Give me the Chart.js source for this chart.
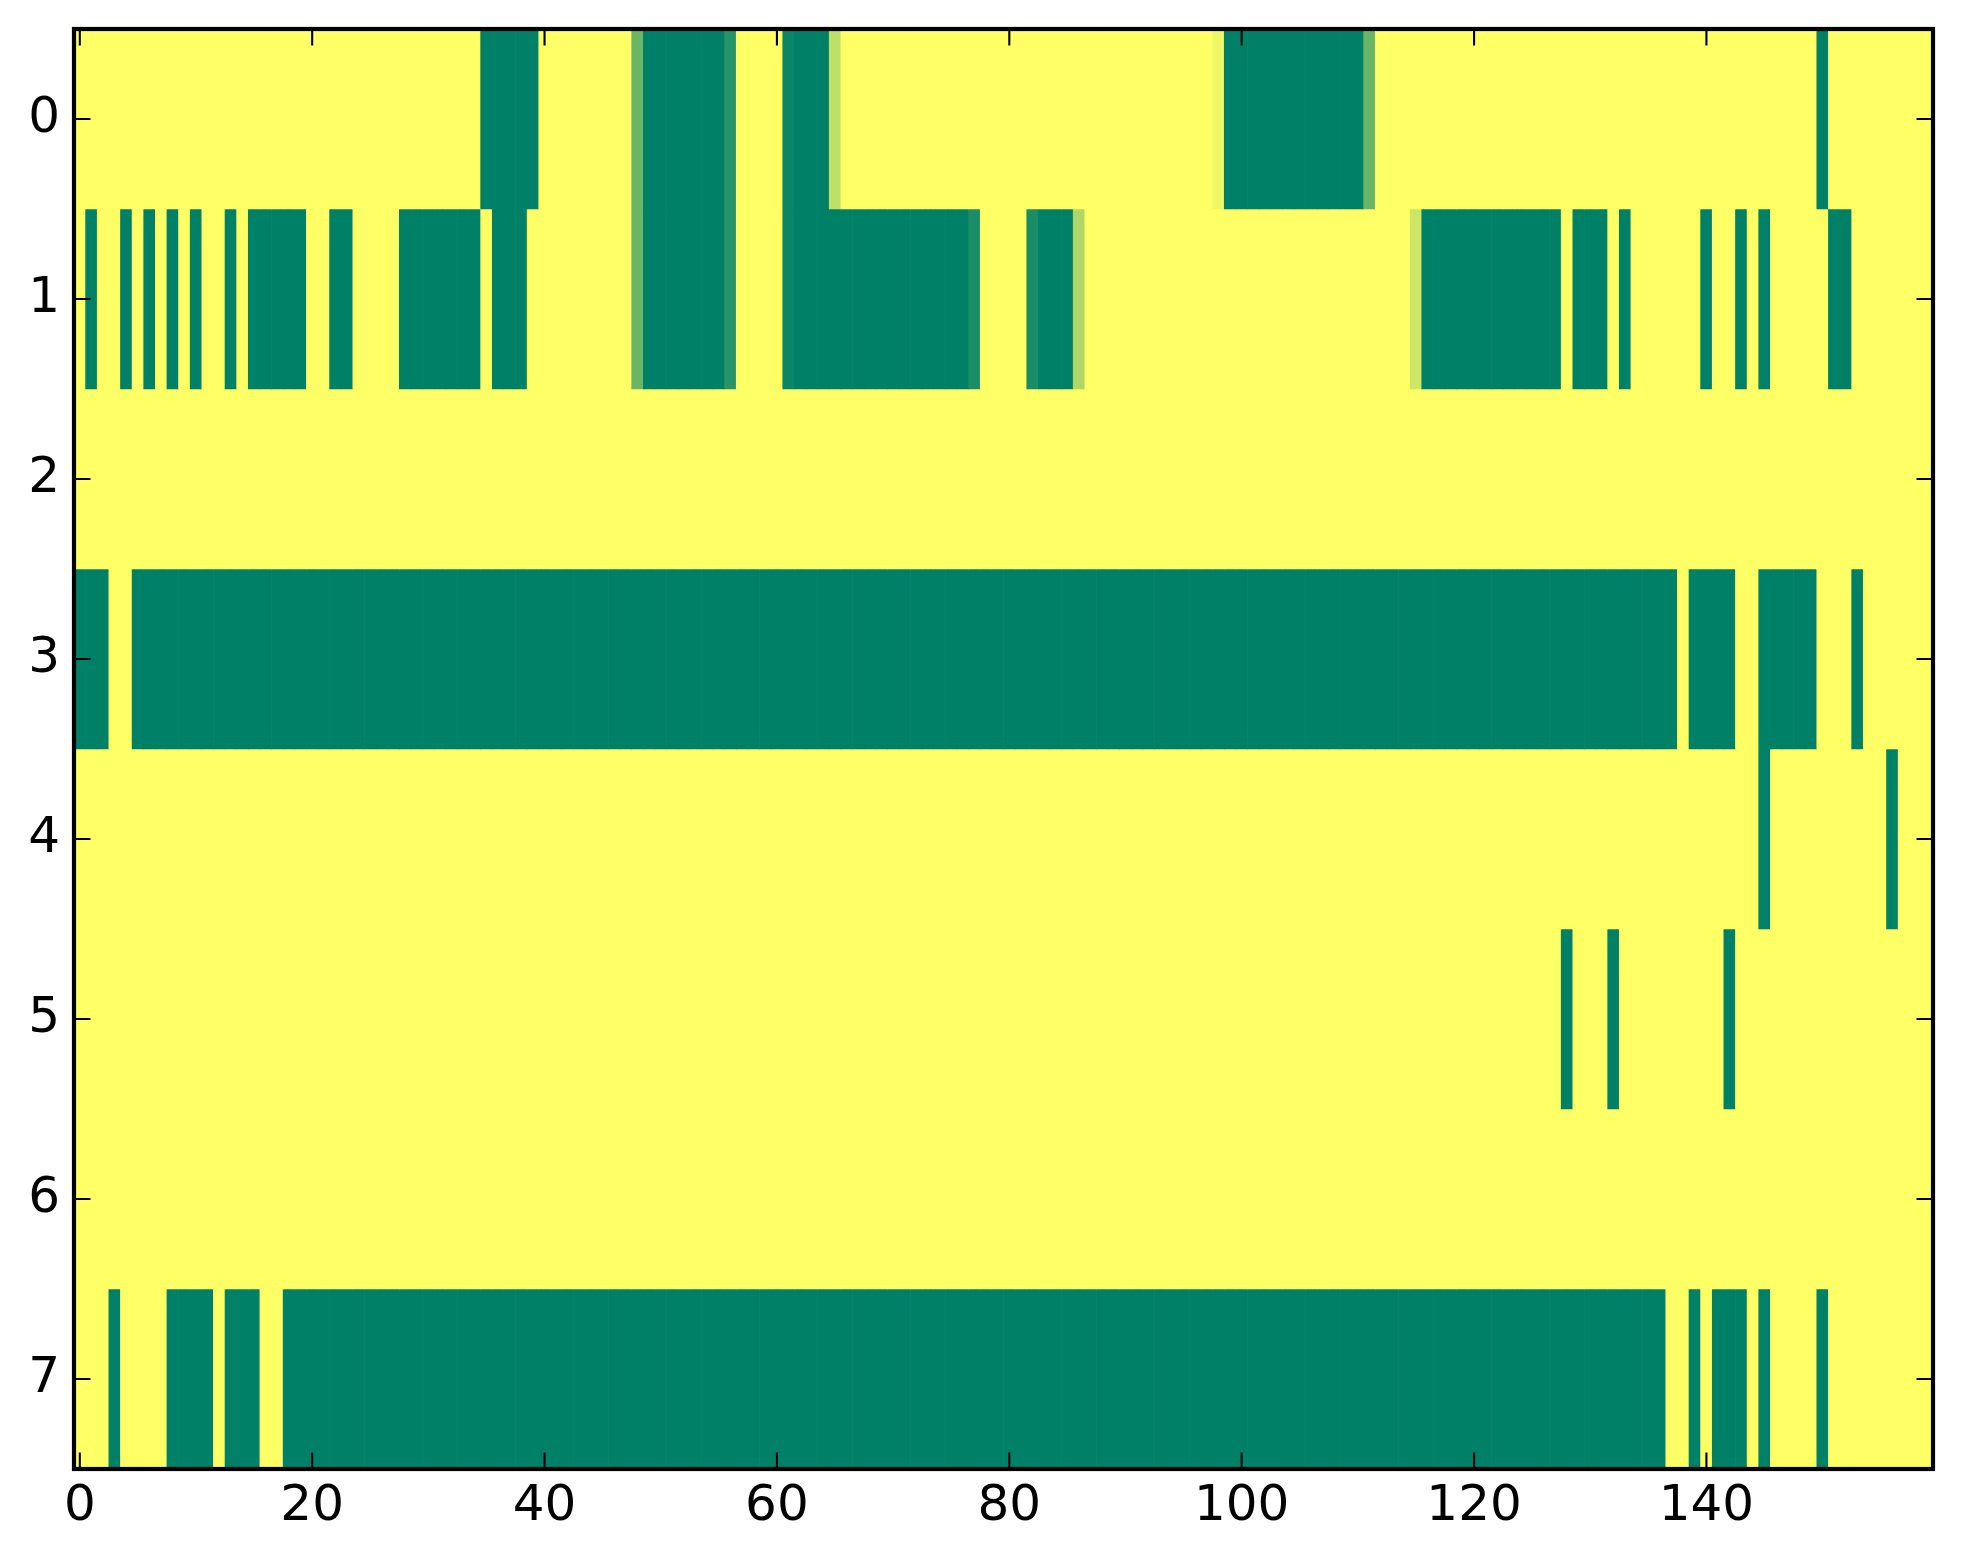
<!DOCTYPE html>
<html>
<head>
<meta charset="utf-8">
<script src="https://cdn.jsdelivr.net/npm/chart.js@4.4.1/dist/chart.umd.min.js"></script>
<style>
  html, body { margin: 0; padding: 0; background: #fff; }
  #wrap { width: 1963px; height: 1564px; }
</style>
</head>
<body>
<div id="wrap"><canvas id="chart" width="1963" height="1564"></canvas></div>
<script>
const xTicks = [0, 20, 40, 60, 80, 100, 120, 140];
const yTicks = [0, 1, 2, 3, 4, 5, 6, 7];

// one array per image row, one value per column (0 = green, 1 = yellow)
const row0 = [
  1,1,1,1,1,1,1,1,1,1, 1,1,1,1,1,1,1,1,1,1,
  1,1,1,1,1,1,1,1,1,1, 1,1,1,1,1,0,0,0,0,0,
  1,1,1,1,1,1,1,1,0.42,0, 0,0,0,0,0,0,0.16,1,1,1,
  1,0.04,0,0,0,0.75,1,1,1,1, 1,1,1,1,1,1,1,1,1,1,
  1,1,1,1,1,1,1,1,1,1, 1,1,1,1,1,1,1,1,0.94,0,
  0,0,0,0,0,0,0,0,0,0, 0,0.42,1,1,1,1,1,1,1,1,
  1,1,1,1,1,1,1,1,1,1, 1,1,1,1,1,1,1,1,1,1,
  1,1,1,1,1,1,1,1,1,1, 0,1,1,1,1,1,1,1,1,1
];
const row1 = [
  1,0,1,1,0,1,0,1,0,1, 0,1,1,0,1,0,0,0,0,0,
  1,1,0,0,1,1,1,1,0,0, 0,0,0,0,0,1,0,0,0,1,
  1,1,1,1,1,1,1,1,0.42,0, 0,0,0,0,0,0,0.16,1,1,1,
  1,0.04,0,0,0,0,0,0,0,0, 0,0,0,0,0,0,0,0.10,1,1,
  1,1,0.10,0,0,0,0.69,1,1,1, 1,1,1,1,1,1,1,1,1,1,
  1,1,1,1,1,1,1,1,1,1, 1,1,1,1,1,0.80,0,0,0,0,
  0,0,0,0,0,0,0,0,1,0, 0,0,1,0,1,1,1,1,1,1,
  0,1,1,0,1,0,1,1,1,1, 1,0,0,1,1,1,1,1,1,1
];
const row2 = [
  1,1,1,1,1,1,1,1,1,1, 1,1,1,1,1,1,1,1,1,1,
  1,1,1,1,1,1,1,1,1,1, 1,1,1,1,1,1,1,1,1,1,
  1,1,1,1,1,1,1,1,1,1, 1,1,1,1,1,1,1,1,1,1,
  1,1,1,1,1,1,1,1,1,1, 1,1,1,1,1,1,1,1,1,1,
  1,1,1,1,1,1,1,1,1,1, 1,1,1,1,1,1,1,1,1,1,
  1,1,1,1,1,1,1,1,1,1, 1,1,1,1,1,1,1,1,1,1,
  1,1,1,1,1,1,1,1,1,1, 1,1,1,1,1,1,1,1,1,1,
  1,1,1,1,1,1,1,1,1,1, 1,1,1,1,1,1,1,1,1,1
];
const row3 = [
  0,0,0,1,1,0,0,0,0,0, 0,0,0,0,0,0,0,0,0,0,
  0,0,0,0,0,0,0,0,0,0, 0,0,0,0,0,0,0,0,0,0,
  0,0,0,0,0,0,0,0,0,0, 0,0,0,0,0,0,0,0,0,0,
  0,0,0,0,0,0,0,0,0,0, 0,0,0,0,0,0,0,0,0,0,
  0,0,0,0,0,0,0,0,0,0, 0,0,0,0,0,0,0,0,0,0,
  0,0,0,0,0,0,0,0,0,0, 0,0,0,0,0,0,0,0,0,0,
  0,0,0,0,0,0,0,0,0,0, 0,0,0,0,0,0,0,0,1,0,
  0,0,0,1,1,0,0,0,0,0, 1,1,1,0,1,1,1,1,1,1
];
const row4 = [
  1,1,1,1,1,1,1,1,1,1, 1,1,1,1,1,1,1,1,1,1,
  1,1,1,1,1,1,1,1,1,1, 1,1,1,1,1,1,1,1,1,1,
  1,1,1,1,1,1,1,1,1,1, 1,1,1,1,1,1,1,1,1,1,
  1,1,1,1,1,1,1,1,1,1, 1,1,1,1,1,1,1,1,1,1,
  1,1,1,1,1,1,1,1,1,1, 1,1,1,1,1,1,1,1,1,1,
  1,1,1,1,1,1,1,1,1,1, 1,1,1,1,1,1,1,1,1,1,
  1,1,1,1,1,1,1,1,1,1, 1,1,1,1,1,1,1,1,1,1,
  1,1,1,1,1,0,1,1,1,1, 1,1,1,1,1,1,0,1,1,1
];
const row5 = [
  1,1,1,1,1,1,1,1,1,1, 1,1,1,1,1,1,1,1,1,1,
  1,1,1,1,1,1,1,1,1,1, 1,1,1,1,1,1,1,1,1,1,
  1,1,1,1,1,1,1,1,1,1, 1,1,1,1,1,1,1,1,1,1,
  1,1,1,1,1,1,1,1,1,1, 1,1,1,1,1,1,1,1,1,1,
  1,1,1,1,1,1,1,1,1,1, 1,1,1,1,1,1,1,1,1,1,
  1,1,1,1,1,1,1,1,1,1, 1,1,1,1,1,1,1,1,1,1,
  1,1,1,1,1,1,1,1,0,1, 1,1,0,1,1,1,1,1,1,1,
  1,1,0,1,1,1,1,1,1,1, 1,1,1,1,1,1,1,1,1,1
];
const row6 = [
  1,1,1,1,1,1,1,1,1,1, 1,1,1,1,1,1,1,1,1,1,
  1,1,1,1,1,1,1,1,1,1, 1,1,1,1,1,1,1,1,1,1,
  1,1,1,1,1,1,1,1,1,1, 1,1,1,1,1,1,1,1,1,1,
  1,1,1,1,1,1,1,1,1,1, 1,1,1,1,1,1,1,1,1,1,
  1,1,1,1,1,1,1,1,1,1, 1,1,1,1,1,1,1,1,1,1,
  1,1,1,1,1,1,1,1,1,1, 1,1,1,1,1,1,1,1,1,1,
  1,1,1,1,1,1,1,1,1,1, 1,1,1,1,1,1,1,1,1,1,
  1,1,1,1,1,1,1,1,1,1, 1,1,1,1,1,1,1,1,1,1
];
const row7 = [
  1,1,1,0,1,1,1,1,0,0, 0,0,1,0,0,0,1,1,0,0,
  0,0,0,0,0,0,0,0,0,0, 0,0,0,0,0,0,0,0,0,0,
  0,0,0,0,0,0,0,0,0,0, 0,0,0,0,0,0,0,0,0,0,
  0,0,0,0,0,0,0,0,0,0, 0,0,0,0,0,0,0,0,0,0,
  0,0,0,0,0,0,0,0,0,0, 0,0,0,0,0,0,0,0,0,0,
  0,0,0,0,0,0,0,0,0,0, 0,0,0,0,0,0,0,0,0,0,
  0,0,0,0,0,0,0,0,0,0, 0,0,0,0,0,0,0,1,1,0,
  1,0,0,0,1,0,1,1,1,1, 0,1,1,1,1,1,1,1,1,1
];
const rows = [row0, row1, row2, row3, row4, row5, row6, row7];

// matplotlib "summer": green (0) -> yellow (1)
const summer = (v) =>
  `rgb(${Math.round(255 * v)}, ${Math.round(127.5 + 127.5 * v)}, 102)`;

const tickFont = { family: 'DejaVu Sans', size: 50 };
const tickLen = 16.5;

// inward ticks on all four sides plus the black frame, matplotlib style
const frame = {
  id: 'frame',
  afterDatasetsDraw(chart) {
    const { ctx, chartArea: a, scales: { x, y } } = chart;
    ctx.save();
    ctx.strokeStyle = '#000';
    ctx.lineWidth = 2.1;
    ctx.beginPath();
    x.ticks.forEach((t) => {
      const px = x.getPixelForValue(t.value);
      ctx.moveTo(px, a.bottom); ctx.lineTo(px, a.bottom - tickLen);
      ctx.moveTo(px, a.top); ctx.lineTo(px, a.top + tickLen);
    });
    y.ticks.forEach((t) => {
      const py = y.getPixelForValue(t.value);
      ctx.moveTo(a.left, py); ctx.lineTo(a.left + tickLen, py);
      ctx.moveTo(a.right, py); ctx.lineTo(a.right - tickLen, py);
    });
    ctx.stroke();
    ctx.lineWidth = 4.2;
    ctx.strokeRect(a.left, a.top, a.right - a.left, a.bottom - a.top);
    ctx.restore();
  }
};

new Chart(document.getElementById('chart').getContext('2d'), {
  type: 'bar',
  data: {
    datasets: rows.map((row, r) => ({
      data: row.map((v, c) => ({ x: c, y: [r - 0.5, r + 0.5] })),
      backgroundColor: row.map(summer),
      borderWidth: 0,
      grouped: false,
      barPercentage: 1,
      categoryPercentage: 1
    }))
  },
  options: {
    responsive: false,
    devicePixelRatio: 1,
    animation: false,
    layout: { padding: { top: 29, right: 30, left: 0, bottom: 0 } },
    plugins: { legend: { display: false }, tooltip: { enabled: false } },
    scales: {
      x: {
        type: 'linear',
        min: -0.5,
        max: 159.5,
        offset: false,
        grid: { display: false, drawTicks: false },
        border: { display: false },
        afterBuildTicks: (s) => { s.ticks = xTicks.map((v) => ({ value: v })); },
        afterFit: (s) => { s.height = 95; s.paddingLeft = 0; s.paddingRight = 0; },
        ticks: { font: tickFont, color: '#000', padding: 8, maxRotation: 0, autoSkip: false }
      },
      y: {
        type: 'linear',
        reverse: true,
        min: -0.5,
        max: 7.5,
        grid: { display: false, drawTicks: false },
        border: { display: false },
        afterBuildTicks: (s) => { s.ticks = yTicks.map((v) => ({ value: v })); },
        afterFit: (s) => { s.width = 74; s.paddingTop = 0; s.paddingBottom = 0; },
        ticks: { font: tickFont, color: '#000', padding: 14, autoSkip: false }
      }
    }
  },
  plugins: [frame]
});
</script>
</body>
</html>
